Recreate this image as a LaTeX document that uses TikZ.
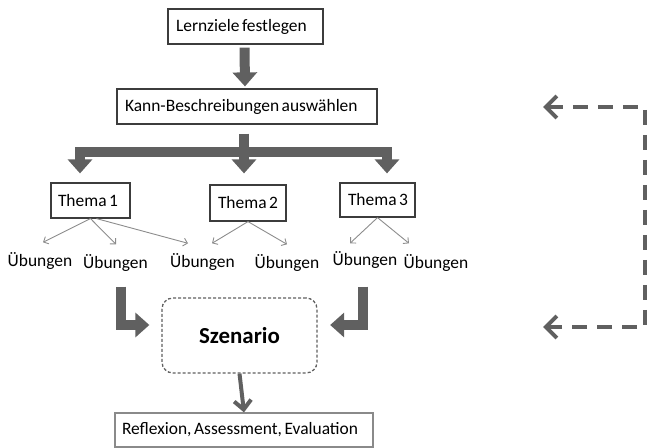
\documentclass[tikz,border=0pt]{standalone}
\usepackage{fontspec}
\setmainfont{Carlito}[WordSpace=0.65]
\usetikzlibrary{arrows.meta,calc}
\definecolor{arrgray}{HTML}{606060}
\definecolor{boxgray}{HTML}{3C3C3C}
\definecolor{thingray}{HTML}{8C8C8C}
\definecolor{lightbox}{HTML}{8A8A8A}
\newcommand{\lbox}[2]{\makebox[#1][l]{#2}}
\begin{document}
\begin{tikzpicture}[x=1bp,y=-1bp,line join=miter,
  box/.style={draw=boxgray,line width=1.2bp,inner xsep=8bp,inner ysep=0pt,
    font=\fontsize{17.5}{20}\selectfont,minimum height=35bp},
  ub/.style={inner sep=0pt,font=\fontsize{17.5}{21}\selectfont},
  fat/.style={draw=arrgray,line width=10bp},
  fattip/.style={-{Triangle[width=24bp,length=14bp]}},
  thin/.style={draw=thingray,line width=0.9bp,-{Straight Barb[length=4bp,width=8bp]}},
  fb/.style={draw=arrgray,line width=4bp,dash pattern=on 15bp off 10bp,
    {Straight Barb[width=22bp,length=11bp,line width=4bp]}-{Straight Barb[width=22bp,length=11bp,line width=4bp]}}
]
\useasboundingbox (0,0) rectangle (647,448);
% boxes
\node[box] (lz) at (245.5,26.5) {\lbox{139bp}{Lernziele festlegen}};
\node[box] (kann) at (247,106.5) {\lbox{244bp}{Kann-Beschreibungen auswählen}};
\node[box,inner xsep=7bp] (t1) at (90.5,200.5) {\lbox{65bp}{Thema 1}};
\node[box,minimum height=36bp] (t2) at (248,203) {\lbox{60bp}{Thema 2}};
\node[box,minimum height=34bp] (t3) at (377.5,200) {\lbox{59bp}{Thema 3}};
% Uebungen
\node[ub] (u1) at (40,261) {Übungen};
\node[ub] (u2) at (115.5,263) {Übungen};
\node[ub] (u3) at (202.5,262) {Übungen};
\node[ub] (u4) at (287,263) {Übungen};
\node[ub] (u5) at (365,260) {Übungen};
\node[ub] (u6) at (436,263) {Übungen};
% Szenario
\node[draw=arrgray,line width=1.3bp,dash pattern=on 3bp off 2bp,rounded corners=11bp,
  minimum width=155bp,minimum height=75bp,inner sep=0pt,
  font=\fontsize{23}{26}\bfseries] (sz) at (239.5,335.5) {Szenario};
% Reflexion
\node[box,draw=lightbox,minimum height=34bp,inner xsep=7bp] (rf) at (244,430) {\lbox{244bp}{Reflexion, Assessment, Evaluation}};
% feedback anchors
\coordinate (fbtop) at (543,107);
\coordinate (fbbot) at (543,327);
\coordinate (fbr) at (645,0);

% thick arrows
\draw[fat,fattip] ($(lz.south)+(-1,3)$) -- ($(kann.north)+(-2,-2)$);
\draw[fat,fattip] ($(kann.south)+(-3,9)$) -- ($(t2.north)+(-4,-11)$);
\draw[fat,{Triangle[width=24bp,length=14bp]}-{Triangle[width=24bp,length=14bp]}]
  ($(t1.north)+(-10.5,-9)$) |- ($(kann.south)+(0,27)$) -| ($(t3.north)+(9.5,-9)$);
% thin arrows
\draw[thin] (t1.south) -- ($(u1.north)+(3,-10)$);
\draw[thin] (t1.south) -- ($(u2.north)+(0.5,-10)$);
\draw[thin] ($(t1.south)+(6,0)$) -- ($(u3.north)+(-14.5,-10)$);
\draw[thin] (t2.south) -- ($(u3.north)+(9.5,-10)$);
\draw[thin] (t2.south) -- ($(u4.north)+(0,-10)$);
\draw[thin] (t3.south) -- ($(u5.north)+(-15,-8)$);
\draw[thin] (t3.south) -- ($(u6.north)+(-27,-11)$);
% bent arrows into Szenario
\draw[fat,fattip] ($(u2.south)+(5.5,15)$) |- ($(sz.west)+(-12,-10.5)$);
\draw[fat,fattip] ($(u5.south)+(-2.5,18)$) |- ($(sz.east)+(12.5,-10.5)$);
% Szenario -> Reflexion
\draw[draw=arrgray,line width=4bp,-{Straight Barb[width=17bp,length=9bp,line width=4bp]}] (sz.south) -- (rf.north);
% feedback dashed
\draw[fb] (fbtop) -- (fbtop -| fbr) -- (fbbot -| fbr) -- (fbbot);
\end{tikzpicture}
\end{document}
